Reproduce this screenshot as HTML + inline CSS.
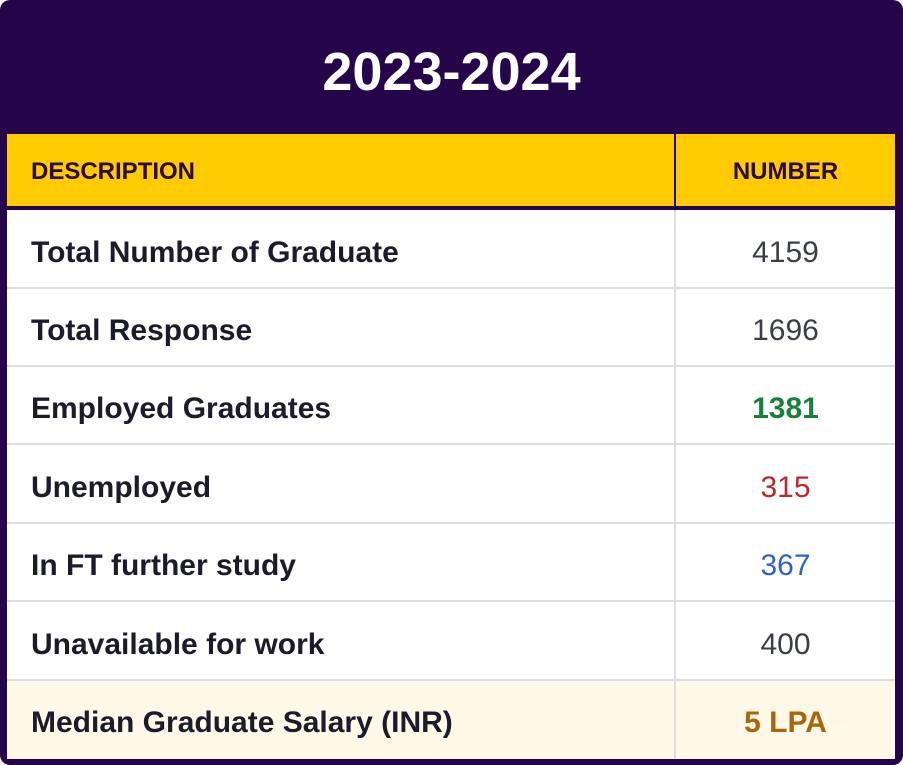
<!DOCTYPE html>
<html><head><style>
body{margin:0;width:903px;height:765px;background:#fff;font-family:"Liberation Sans",sans-serif;}
.o{position:absolute;left:0;top:0;width:903px;height:765px;background:#26064a;border-radius:10px;}
.t{position:absolute;left:0;top:40px;width:903px;text-align:center;color:#fff;font-weight:bold;font-size:54px;line-height:64px;}
.hd{position:absolute;top:134px;height:72px;background:#fecb00;color:#2a0a4a;font-size:24px;font-weight:bold;line-height:76px;}
.c{position:absolute;background:#fff;font-size:30px;border-bottom:2px solid #dedde3;box-sizing:border-box;}
.l{left:7px;width:669px;padding-left:24px;font-weight:bold;color:#1b1b2b;border-right:2px solid #dedde3;}
.r{left:676px;width:219px;text-align:center;color:#3a3f47;}
.y{background:#fef9e6;}
</style></head><body>
<div class="o"></div>
<div class="t">2023-2024</div>
<div class="hd" style="left:7px;width:667px;padding-left:24px;box-sizing:border-box;">DESCRIPTION</div>
<div class="hd" style="left:676px;width:219px;text-align:center;">NUMBER</div>
<div class="c l" style="top:210px;height:79px;line-height:85px">Total Number of Graduate</div>
<div class="c r" style="top:210px;height:79px;line-height:85px">4159</div>
<div class="c l" style="top:289px;height:78px;line-height:84px">Total Response</div>
<div class="c r" style="top:289px;height:78px;line-height:84px">1696</div>
<div class="c l" style="top:367px;height:78px;line-height:84px">Employed Graduates</div>
<div class="c r" style="top:367px;height:78px;line-height:84px;color:#188038;font-weight:bold">1381</div>
<div class="c l" style="top:445px;height:79px;line-height:85px">Unemployed</div>
<div class="c r" style="top:445px;height:79px;line-height:85px;color:#c0262d">315</div>
<div class="c l" style="top:524px;height:78px;line-height:84px">In FT further study</div>
<div class="c r" style="top:524px;height:78px;line-height:84px;color:#2f62c8">367</div>
<div class="c l" style="top:602px;height:79px;line-height:85px">Unavailable for work</div>
<div class="c r" style="top:602px;height:79px;line-height:85px">400</div>
<div class="c l y" style="top:681px;height:78px;line-height:84px;border-bottom:none">Median Graduate Salary (INR)</div>
<div class="c r y" style="top:681px;height:78px;line-height:84px;border:none;color:#a8670e;font-weight:bold">5 LPA</div>
</body></html>
